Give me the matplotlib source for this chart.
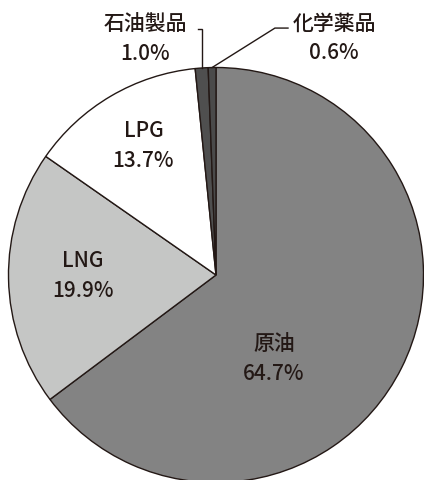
import numpy as np
import matplotlib
matplotlib.use("Agg")
import matplotlib.pyplot as plt

plt.rcParams['font.family'] = ['Noto Sans CJK JP', 'DejaVu Sans']

# import shares by product (%), clockwise from 12 o'clock
labels = ['原油', 'LNG', 'LPG', '石油製品', '化学薬品']
shares = [64.7, 19.9, 13.7, 1.0, 0.6]
colors = ['#838383', '#c5c6c5', '#ffffff', '#4f4f4f', '#4a4a4a']

ink = '#231815'
W, H = 424, 481
R = 207.5           # pie radius in pixels
cx, cy = 216, 276   # pie centre, pixels from top-left

fig = plt.figure(figsize=(W / 100, H / 100), dpi=100)
ax = fig.add_axes([0, 0, 1, 1])

wedges, _ = ax.pie(shares, colors=colors, startangle=90, counterclock=False,
                   radius=1.0, wedgeprops=dict(edgecolor=ink, linewidth=1.0))

# pie() resets the limits, so set them afterwards
ax.set_xlim(-cx / R, (W - cx) / R)
ax.set_ylim(-(H - cy) / R, cy / R)
ax.set_aspect('equal')
ax.axis('off')

# label text positions (data units, radius = 1)
label_pos = {
    '原油': (0.28, -0.40),
    'LNG': (-0.64, 0.0),
    'LPG': (-0.35, 0.625),
    '石油製品': (-0.34, 1.14),
    '化学薬品': (0.57, 1.145),
}

for w, name, val in zip(wedges, labels, shares):
    x, y = label_pos[name]
    ax.text(x, y, f'{name}\n{val:.1f}%', ha='center', va='center',
            fontsize=15, color=ink, linespacing=1.45, fontweight='medium')

# leader lines for the two thin slices
def mid_point(w):
    a = np.deg2rad((w.theta1 + w.theta2) / 2)
    return np.cos(a), np.sin(a)

x0, y0 = mid_point(wedges[3])
ax.plot([x0, x0, -0.087], [y0, 1.186, 1.186], color=ink, lw=1.0,
        solid_joinstyle='miter', clip_on=False)

x1, y1 = mid_point(wedges[4])
ax.plot([x1, 0.284, 0.347], [y1, 1.19, 1.19], color=ink, lw=1.0,
        solid_joinstyle='miter', clip_on=False)

fig.savefig('out.png', dpi=100)
